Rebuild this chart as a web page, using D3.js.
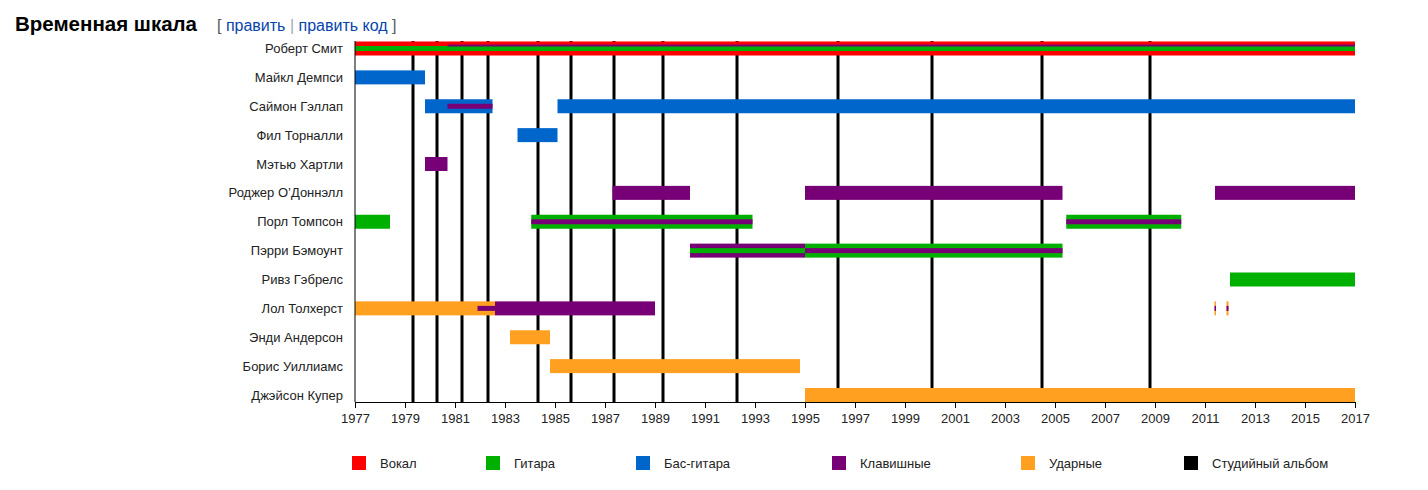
<!DOCTYPE html>
<meta charset="utf-8">
<script src="https://d3js.org/d3.v7.min.js"></script>
<style>
  body { margin: 0; background: #fff; font-family: "Liberation Sans", Arial, sans-serif; }
</style>
<div id="chart"></div>
<script>

// members, top to bottom
var members = ["Роберт Смит", "Майкл Демпси", "Саймон Гэллап", "Фил Торналли", "Мэтью Хартли",
  "Роджер О’Доннэлл", "Порл Томпсон", "Пэрри Бэмоунт", "Ривз Гэбрелс", "Лол Толхерст",
  "Энди Андерсон", "Борис Уиллиамс", "Джэйсон Купер"];

var roles = ["Вокал", "Гитара", "Бас-гитара", "Клавишные", "Ударные", "Студийный альбом"];
var roleColors = ["#ff0000", "#00b000", "#0066cc", "#770077", "#ffa020", "#000000"];

// studio album release dates (decimal years)
var albumYears = [1979.32, 1980.28, 1981.28, 1982.32, 1984.32, 1985.64, 1987.36,
  1989.32, 1992.28, 1996.32, 2000.08, 2004.48, 2008.8];

var tickYears = d3.range(1977, 2018, 2);

// [member, role, from, to, level]  level: 0 = main, 1 = second instrument, 2 = third
var bars = [
  ["Роберт Смит", "Вокал", 1977, 2017, 0],
  ["Роберт Смит", "Гитара", 1977, 2017, 1],
  ["Роберт Смит", "Клавишные", 1980.7, 2017, 2],
  ["Майкл Демпси", "Бас-гитара", 1977, 1979.8, 0],
  ["Саймон Гэллап", "Бас-гитара", 1979.8, 1982.5, 0],
  ["Саймон Гэллап", "Клавишные", 1980.7, 1982.5, 1],
  ["Саймон Гэллап", "Бас-гитара", 1985.1, 2017, 0],
  ["Фил Торналли", "Бас-гитара", 1983.5, 1985.1, 0],
  ["Мэтью Хартли", "Клавишные", 1979.8, 1980.7, 0],
  ["Роджер О’Доннэлл", "Клавишные", 1987.3, 1990.4, 0],
  ["Роджер О’Доннэлл", "Клавишные", 1995, 2005.3, 0],
  ["Роджер О’Доннэлл", "Клавишные", 2011.4, 2017, 0],
  ["Порл Томпсон", "Гитара", 1977, 1978.4, 0],
  ["Порл Томпсон", "Гитара", 1984.05, 1992.9, 0],
  ["Порл Томпсон", "Клавишные", 1984.05, 1992.9, 1],
  ["Порл Томпсон", "Гитара", 2005.45, 2010.05, 0],
  ["Порл Томпсон", "Клавишные", 2005.45, 2010.05, 1],
  ["Пэрри Бэмоунт", "Клавишные", 1990.4, 1995, 0],
  ["Пэрри Бэмоунт", "Гитара", 1990.4, 1995, 1],
  ["Пэрри Бэмоунт", "Гитара", 1995, 2005.3, 0],
  ["Пэрри Бэмоунт", "Клавишные", 1995, 2005.3, 1],
  ["Ривз Гэбрелс", "Гитара", 2012, 2017, 0],
  ["Лол Толхерст", "Ударные", 1977, 1982.6, 0],
  ["Лол Толхерст", "Клавишные", 1981.9, 1982.6, 1],
  ["Лол Толхерст", "Клавишные", 1982.6, 1989.0, 0],
  ["Лол Толхерст", "Ударные", 2011.38, 2011.44, 0],
  ["Лол Толхерст", "Клавишные", 2011.38, 2011.44, 1],
  ["Лол Толхерст", "Ударные", 2011.86, 2011.94, 0],
  ["Лол Толхерст", "Клавишные", 2011.86, 2011.94, 1],
  ["Энди Андерсон", "Ударные", 1983.2, 1984.8, 0],
  ["Борис Уиллиамс", "Ударные", 1984.8, 1994.8, 0],
  ["Джэйсон Купер", "Ударные", 1995, 2017, 0]
];

var W = 1428, H = 490;
var font = "'Liberation Sans', Arial, sans-serif";
var svg = d3.select("#chart").append("svg")
  .attr("width", W).attr("height", H);

// heading
svg.append("text").attr("x", 15).attr("y", 31)
  .attr("font-size", 20.5).attr("font-weight", "bold").attr("fill", "#000")
  .style("font-family", font)
  .text("Временная шкала");
var edit = svg.append("text").attr("x", 217).attr("y", 31).attr("font-size", 16)
  .style("font-family", font);
edit.append("tspan").attr("fill", "#54595d").text("[ ");
edit.append("tspan").attr("fill", "#0645ad").text("править");
edit.append("tspan").attr("fill", "#a2a9b1").text(" | ");
edit.append("tspan").attr("fill", "#0645ad").text("править код");
edit.append("tspan").attr("fill", "#54595d").text(" ]");

var x = d3.scaleLinear().domain([1977, 2017]).range([355, 1355]);
var y = d3.scalePoint().domain(members).range([48.5, 395]);
var color = d3.scaleOrdinal().domain(roles).range(roleColors);
var axisY = 402, topY = 41;

svg.append("clipPath").attr("id", "lab")
  .append("rect").attr("x", 229).attr("y", 0).attr("width", 200).attr("height", H);

// member names
svg.append("g").attr("clip-path", "url(#lab)")
  .selectAll("text").data(members).enter().append("text")
  .attr("x", 343).attr("y", function (d) { return y(d); })
  .attr("dy", "0.35em").attr("text-anchor", "end")
  .attr("font-size", 13).attr("fill", "#222")
  .text(function (d) { return d; });

// album lines (behind bars)
svg.append("g").selectAll("line").data(albumYears).enter().append("line")
  .attr("x1", function (d) { return x(d); }).attr("x2", function (d) { return x(d); })
  .attr("y1", topY).attr("y2", axisY)
  .attr("stroke", "#000").attr("stroke-width", 3);

// bars
var heights = [14, 5, 2];
var offsets = [0, 0, -3];
svg.append("g").selectAll("rect").data(bars).enter().append("rect")
  .attr("x", function (d) { return x(d[2]); })
  .attr("width", function (d) { return Math.max(1.5, x(d[3]) - x(d[2])); })
  .attr("y", function (d) { return y(d[0]) - heights[d[4]] / 2 + offsets[d[4]]; })
  .attr("height", function (d) { return heights[d[4]]; })
  .attr("fill", function (d) { return color(d[1]); });

// axes
svg.append("line").attr("x1", 355).attr("x2", 355).attr("y1", topY).attr("y2", axisY)
  .attr("stroke", "#000").attr("stroke-width", 1);
var ax = svg.append("g").attr("transform", "translate(0," + axisY + ")")
  .call(d3.axisBottom(x).tickValues(tickYears).tickFormat(d3.format("d")).tickSize(6).tickPadding(6));
ax.select(".domain").attr("stroke", "#000");
ax.selectAll("text").attr("font-size", 13).attr("fill", "#222")
  .style("font-family", font);

// legend
var legendX = [352, 486, 636, 832, 1021, 1184];
var lg = svg.append("g").selectAll("g").data(roles).enter().append("g")
  .attr("transform", function (d, i) { return "translate(" + legendX[i] + ",456)"; });
lg.append("rect").attr("width", 14).attr("height", 14)
  .attr("fill", function (d) { return color(d); });
lg.append("text").attr("x", 28).attr("y", 7).attr("dy", "0.35em")
  .attr("font-size", 13).attr("fill", "#222")
  .text(function (d) { return d; });

</script>
